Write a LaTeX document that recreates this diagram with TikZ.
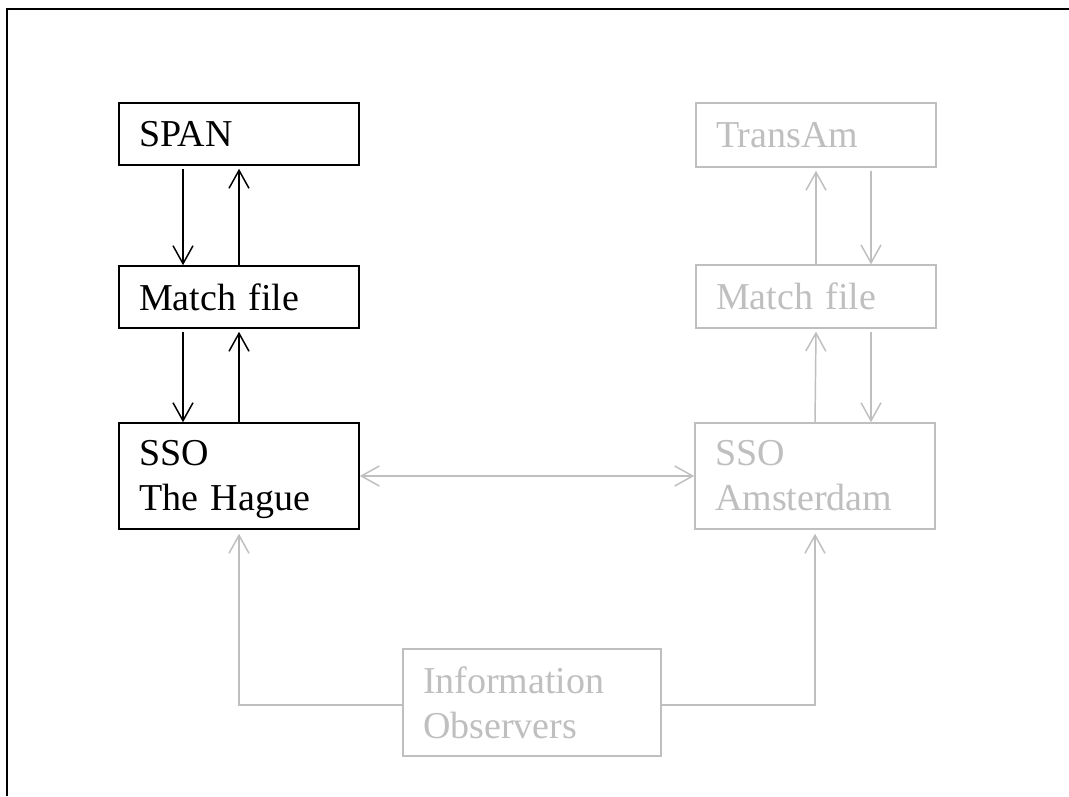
\documentclass[tikz,border=0pt]{standalone}
\usepackage{fontspec}
\setmainfont{Liberation Serif}
\usetikzlibrary{arrows.meta,calc}
\definecolor{lg}{RGB}{191,191,191}
\begin{document}
\begin{tikzpicture}[x=0.75pt,y=-0.75pt,
  box/.style={draw,line width=1.2pt,rectangle,text width=150pt,inner xsep=15pt,inner ysep=0pt,
    align=left,font=\fontsize{28.5}{33.75}\selectfont,minimum width=180pt},
  dim/.style={draw=lg,text=lg},
  arr/.style={-{Straight Barb[length=13.5pt,width=15pt]},line width=1.1pt},
  darr/.style={{Straight Barb[length=13.5pt,width=15pt]}-{Straight Barb[length=13.5pt,width=15pt]},line width=1.1pt},
]
\useasboundingbox (0,0) rectangle (1069,796);
\fill[white] (0,0) rectangle (1069,796);
% frame (cut off at right and bottom)
\draw[line width=1.6pt] (7,796) -- (7,9) -- (1069,9);

% boxes
\node[box,minimum height=46.5pt] (span) at (239,134) {SPAN};
\node[box,minimum height=46.5pt] (matchL) at (239,297) {Match file};
\node[box,minimum height=79.5pt] (hague) at (239,476) {SSO\\The Ha\smash{g}ue};
\node[box,dim,minimum height=48pt] (transam) at (816,135) {TransAm};
\node[box,dim,minimum height=47pt] (matchR) at (816,296.5) {Match file};
\node[box,dim,minimum height=79.5pt] (ams) at (815,476) {SSO\\Amsterdam};
\node[box,dim,minimum height=80.25pt,text width=163.5pt] (info) at (532,702.5) {Information\\Observers};

% left column arrows
\draw[arr] ([xshift=-42pt,yshift=-2.25pt]span.south) -- ([xshift=-42pt]matchL.north);
\draw[arr] (matchL.north) -- ([yshift=-2.25pt]span.south);
\draw[arr] ([xshift=-42pt,yshift=-2.25pt]matchL.south) -- ([xshift=-42pt]hague.north);
\draw[arr] (hague.north) -- ([yshift=-2.25pt]matchL.south);

% right column arrows
\draw[arr,color=lg] (matchR.north) -- ([yshift=-2.25pt]transam.south);
\draw[arr,color=lg] ([xshift=41.25pt,yshift=-2.25pt]transam.south) -- ([xshift=41.25pt]matchR.north);
\draw[arr,color=lg] (ams.north) -- ([yshift=-2.25pt]matchR.south);
\draw[arr,color=lg] ([xshift=41.25pt,yshift=-2.25pt]matchR.south) -- ([xshift=42pt]ams.north);

% horizontal link
\draw[darr,color=lg] (hague.east) -- (ams.west);

% observers
\draw[arr,color=lg] ([yshift=-1.8pt]info.west) -| ([yshift=-3pt]hague.south);
\draw[arr,color=lg] ([yshift=-1.8pt]info.east) -| ([yshift=-3pt]ams.south);
\end{tikzpicture}
\end{document}
